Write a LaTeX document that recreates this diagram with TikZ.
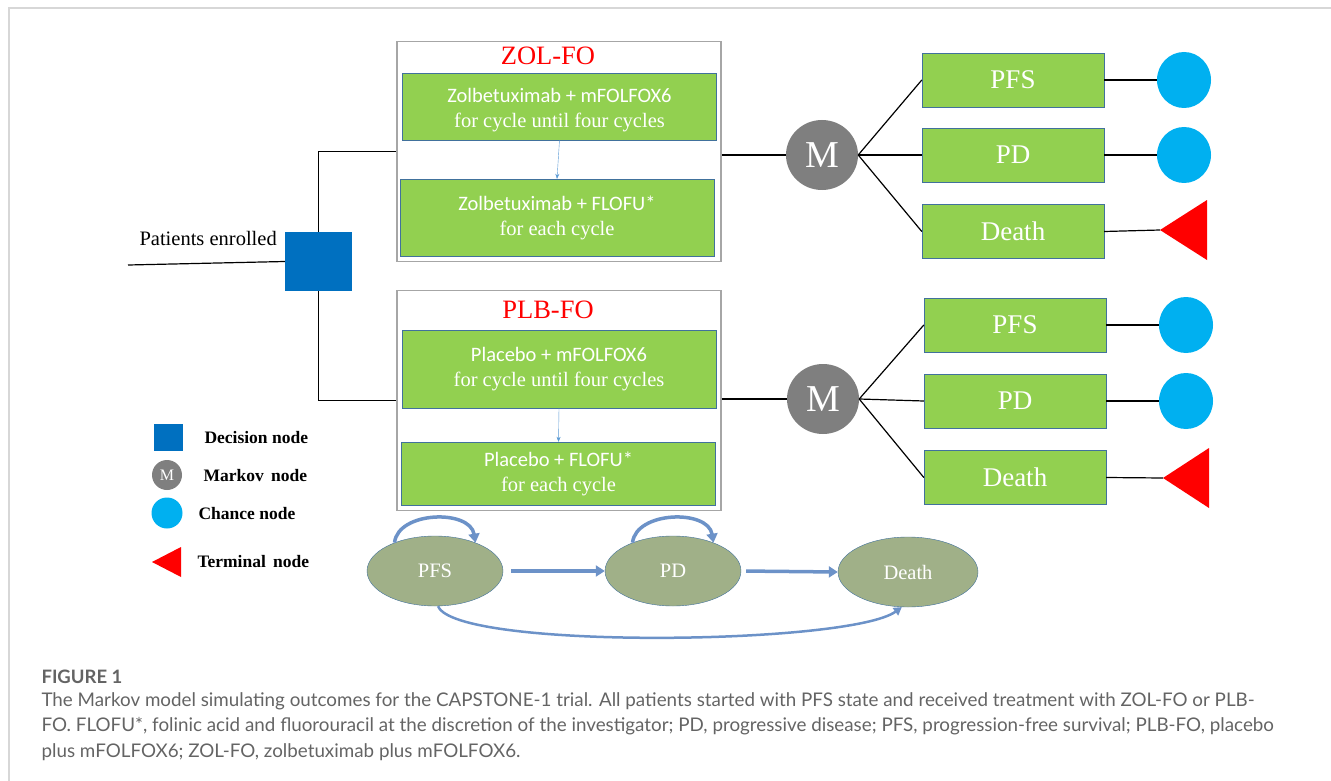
\documentclass[tikz,border=0pt]{standalone}
\usepackage{fontspec}
\setmainfont{Liberation Serif}
\newfontfamily\boxsans{Carlito}
\newfontfamily\capfont{Lato}
\usetikzlibrary{shapes.geometric,arrows.meta}
\definecolor{boxgreen}{RGB}{146,208,80}
\definecolor{boxedge}{RGB}{65,113,156}
\definecolor{outergray}{RGB}{166,166,166}
\definecolor{decblue}{RGB}{0,112,192}
\definecolor{markgray}{RGB}{127,127,127}
\definecolor{chanceblue}{RGB}{0,176,240}
\definecolor{statefill}{RGB}{160,176,136}
\definecolor{flowblue}{RGB}{108,146,200}
\definecolor{thinblue}{RGB}{91,155,213}
\definecolor{capgray}{RGB}{100,100,100}
\definecolor{framegray}{RGB}{215,215,215}

\begin{document}
\begin{tikzpicture}[x=1pt, y=-1pt,
    armbox/.style={draw=outergray, line width=1.5pt, fill=white, minimum width=324pt, minimum height=220pt},
    armtitle/.style={text=red, font=\fontsize{26.5}{28}\selectfont},
    drugbox/.style={draw=boxedge, fill=boxgreen, text=white, align=center, minimum width=314pt, font=\fontsize{20.5}{25}\selectfont},
    statebox/.style={draw=boxedge, fill=boxgreen, text=white, minimum width=182pt, minimum height=54pt, font=\fontsize{27}{30}\selectfont},
    markov/.style={ellipse, fill=markgray, text=white, minimum width=72pt, minimum height=70pt, inner sep=0pt, font=\fontsize{38}{40}\selectfont},
    chance/.style={ellipse, fill=chanceblue, minimum width=54pt, minimum height=56pt, inner sep=0pt},
    mstate/.style={ellipse, draw=boxedge, fill=statefill, text=white, minimum width=136pt, minimum height=70pt, font=\fontsize{20.5}{22}\selectfont},
    legtext/.style={anchor=west, font=\bfseries\fontsize{17.5}{20}\selectfont},
    flow/.style={flowblue, line width=3.5pt, -{Triangle[length=9pt,width=11pt]}},
    tree/.style={black, line width=1.2pt}]
  \useasboundingbox (0,0) rectangle (1331,781);

  % frame of the figure
  \draw[framegray, line width=1.5pt] (9,781) -- (9,8) -- (1331,8);

  % decision node and the two arms
  \coordinate (start) at (128,265);
  \node[fill=decblue, minimum width=67pt, minimum height=59pt] (dec) at (318.5,261.5) {};
  \node[anchor=west, font=\fontsize{20.5}{22}\selectfont] (enrol) at (136,238) {Patients enrolled};

  \node[armbox] (zol) at (559,151.5) {};
  \node[armbox] (plb) at (559,400.5) {};

  \draw[tree] (start) -- (dec.west);
  \draw[tree] (dec.north) |- (zol.west);
  \draw[tree] (dec.south) |- (plb.west);
  \node[fill=decblue, minimum width=67pt, minimum height=59pt] (decfront) at (dec) {};

  \node[armtitle] (zoltitle) at (548,56) {ZOL-FO};
  \node[drugbox, minimum height=67pt] (zol1) at (559.5,106.5) {};
  \node[text=white, align=center, font=\fontsize{20.5}{25}\selectfont] (zol1txt) at (559.5,110) {{\boxsans Zolbetuximab + mFOLFOX6}\\for cycle until four cycles};
  \node[drugbox, minimum height=77pt] (zol2) at (557,217.5) {{\boxsans Zolbetuximab + FLOFU*}\\for each cycle};
  \draw[thinblue, -{Stealth[length=5pt,width=4pt]}] (zol1.south) -- (zol2.north);

  \node[armtitle] (plbtitle) at (548,310) {PLB-FO};
  \node[drugbox, minimum height=78pt] (plb1) at (559,369) {{\boxsans Placebo + mFOLFOX6}\\for cycle until four cycles};
  \node[drugbox, minimum height=63pt] (plb2) at (558.5,473.5) {{\boxsans Placebo + FLOFU*}\\for each cycle};
  \draw[thinblue, -{Stealth[length=5pt,width=4pt]}] (plb1.south) -- (plb2.north);

  % Markov nodes and health states
  \node[markov] (m1) at (822,155) {M};
  \node[markov] (m2) at (823,399) {M};
  \draw[tree] (zol.east |- m1) -- (m1.west);
  \draw[tree] (plb.east |- m2) -- (m2.west);

  \node[statebox] (pfs1) at (1013,80) {PFS};
  \node[statebox] (pd1) at (1013,155) {PD};
  \node[statebox] (dth1) at (1013,231.5) {Death};
  \node[statebox] (pfs2) at (1015,325) {PFS};
  \node[statebox] (pd2) at (1015,401) {PD};
  \node[statebox] (dth2) at (1015,477.5) {Death};

  \foreach \s in {pfs1,pd1,dth1} \draw[tree] (m1.east) -- (\s.west);
  \foreach \s in {pfs2,pd2,dth2} \draw[tree] (m2.east) -- (\s.west);

  \node[chance] (c1) at (1184,80) {};
  \node[chance] (c2) at (1184,155) {};
  \node[chance] (c3) at (1186,325) {};
  \node[chance] (c4) at (1186,401) {};
  \coordinate (t1) at (1160,230);
  \coordinate (t2) at (1163,478);
  \fill[red] (t1) -- ++(47,-30) -- ++(0,60) -- cycle;
  \fill[red] (t2) -- ++(46,-30) -- ++(0,60) -- cycle;

  \draw[tree] (pfs1.east) -- (c1.west);
  \draw[tree] (pd1.east) -- (c2.west);
  \draw[tree] (dth1.east) -- (t1);
  \draw[tree] (pfs2.east) -- (c3.west);
  \draw[tree] (pd2.east) -- (c4.west);
  \draw[tree] (dth2.east) -- (t2);

  % legend
  \node[fill=decblue, minimum width=29pt, minimum height=27pt, inner sep=0pt] (ldec) at (168.5,437.5) {};
  \node[circle, fill=markgray, text=white, minimum size=30pt, inner sep=0pt, font=\fontsize{16}{16}\selectfont] (lmark) at (167,475) {M};
  \node[circle, fill=chanceblue, minimum size=31pt, inner sep=0pt] (lchance) at (167,513) {};
  \fill[red] (152,562) -- (181,547) -- (181,577) -- cycle;
  \node[legtext] (ldectxt) at (201,438) {Decision node};
  \node[legtext] (lmarktxt) at (200,476) {Markov\, node};
  \node[legtext] (lchancetxt) at (195,514) {Chance node};
  \node[legtext] (ltermtxt) at (194,562) {Terminal\, node};

  % state transitions
  \node[mstate] (s1) at (435,571) {PFS};
  \node[mstate] (s2) at (673,571) {PD};
  \node[mstate, minimum width=140pt] (s3) at (908,572) {Death};
  \draw[flow, shorten <=8pt] (s1.east) -- (s2.west);
  \draw[flow, shorten <=5pt] (s2.east) -- (s3.west);
  \draw[flow] (s1.145) .. controls (398,511) and (470,509) .. (s1.35);
  \draw[flow] (s2.145) .. controls (636,511) and (708,509) .. (s2.35);
  \draw[flowblue, line width=2.5pt, -{Triangle[length=8pt,width=9pt]}] (s1.-85) .. controls (455,650) and (850,645) .. (s3.-100);

  % caption
  \node[anchor=west, text=capgray, font=\capfont\bfseries\fontsize{18.5}{20}\selectfont] (figlab) at (38,677) {FIGURE 1};
  \node[anchor=north west, align=left, text=capgray, font=\capfont\fontsize{18.8}{25.5}\selectfont] (cap) at (38,689)
    {The Markov model simulating outcomes for the CAPSTONE-1 trial. All patients started with PFS state and received treatment with ZOL-FO or PLB-\\
     FO. FLOFU*, folinic acid and fluorouracil at the discretion of the investigator; PD, progressive disease; PFS, progression-free survival; PLB-FO, placebo\\
     plus mFOLFOX6; ZOL-FO, zolbetuximab plus mFOLFOX6.};
\end{tikzpicture}
\end{document}
